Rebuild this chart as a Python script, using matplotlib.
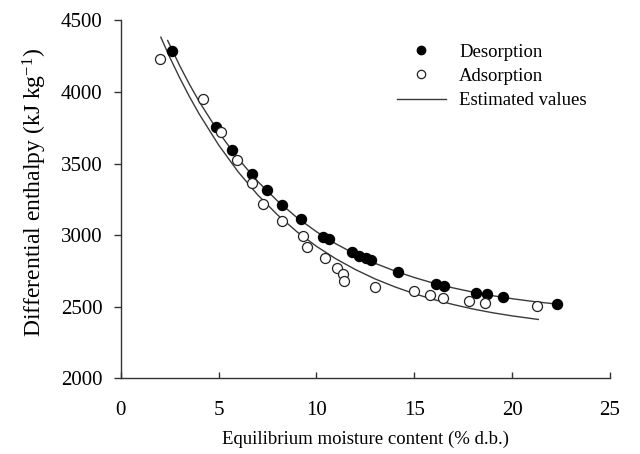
import matplotlib
matplotlib.use("Agg")
import matplotlib.pyplot as plt
from matplotlib.lines import Line2D

# Desorption (filled circles)
des_x = [2.64, 4.85, 5.67, 6.69, 7.46, 8.23, 9.20, 10.34, 10.64, 11.80, 12.19,
         12.53, 12.79, 14.15, 16.11, 16.54, 18.14, 18.70, 19.55, 22.28]
des_y = [4288, 3753, 3594, 3425, 3315, 3210, 3110, 2990, 2976, 2880, 2856,
         2837, 2826, 2740, 2659, 2647, 2598, 2587, 2566, 2519]

# Adsorption (open circles)
ads_x = [2.01, 4.22, 5.13, 5.96, 6.69, 7.29, 8.23, 9.30, 9.50, 10.44, 11.04,
         11.34, 11.41, 12.99, 15.00, 15.80, 16.48, 17.81, 18.62, 21.29]
ads_y = [4228, 3950, 3722, 3524, 3362, 3217, 3101, 2994, 2915, 2842, 2772,
         2728, 2679, 2640, 2608, 2582, 2559, 2540, 2524, 2507]

# Estimated values (curves)
est_des_x = [2.4, 3, 3.5, 4, 5, 6, 7, 8, 9, 10, 11, 12, 13, 14, 15, 16, 17, 18,
             19, 20, 21, 22.3]
est_des_y = [4359, 4187, 4056, 3935, 3719, 3534, 3375, 3240, 3123, 3024, 2939,
             2866, 2803, 2750, 2704, 2664, 2631, 2602, 2577, 2556, 2538, 2518]
est_ads_x = [2.05, 2.5, 3, 3.5, 4, 5, 6, 7, 8, 9, 10, 11, 12, 13, 14, 15, 16,
             17, 18, 19, 20, 21.34]
est_ads_y = [4382, 4244, 4102, 3970, 3848, 3630, 3442, 3281, 3143, 3024, 2922,
             2834, 2759, 2694, 2639, 2591, 2550, 2515, 2484, 2458, 2436, 2411]

xticks = [0, 5, 10, 15, 20, 25]
yticks = [2000, 2500, 3000, 3500, 4000, 4500]
legend_labels = ['Desorption', 'Adsorption', 'Estimated values']

plt.rcParams['font.family'] = ['Liberation Serif', 'DejaVu Serif']
plt.rcParams['mathtext.fontset'] = 'custom'
plt.rcParams['mathtext.rm'] = 'Liberation Serif'
plt.rcParams['mathtext.it'] = 'Liberation Serif'

fig = plt.figure(figsize=(6.4, 4.54), dpi=100)
ax = fig.add_axes([0.1886, 0.1667, 0.7644, 0.7886])

lc = '#3a3a3a'
ax.plot(est_des_x, est_des_y, color=lc, lw=1.0, zorder=2)
ax.plot(est_ads_x, est_ads_y, color=lc, lw=1.0, zorder=2)
ax.plot(des_x, des_y, 'o', color='black', ms=7.2, mec='black', zorder=3)
ax.plot(ads_x, ads_y, 'o', mfc='white', mec='#222222', mew=0.9, ms=7.2, zorder=3)

ax.set_xlim(0, 25)
ax.set_ylim(2000, 4500)
ax.set_xticks(xticks)
ax.set_yticks(yticks)
ax.tick_params(axis='x', direction='in', length=4, width=1, colors='#333333',
               labelcolor='black', labelsize=15, pad=16)
ax.tick_params(axis='y', direction='out', length=5, width=1, colors='#333333',
               labelcolor='black', labelsize=15, pad=8)
for s in ['top', 'right']:
    ax.spines[s].set_visible(False)
for s in ['left', 'bottom']:
    ax.spines[s].set_color('#333333')
    ax.spines[s].set_linewidth(1.0)

ax.set_xlabel('Equilibrium moisture content (% d.b.)', fontsize=13.5)
ax.set_ylabel('Differential enthalpy (kJ kg$^{-1}$)', fontsize=17)
ax.xaxis.set_label_coords(0.5, -0.146)
ax.yaxis.set_label_coords(-0.146, 0.52)

handles = [Line2D([], [], marker='o', ls='none', color='black', ms=6),
           Line2D([], [], marker='o', ls='none', mfc='white', mec='#222222', mew=0.9, ms=6),
           Line2D([], [], color=lc, lw=1.0)]
ax.legend(handles, legend_labels, loc='upper left', bbox_to_anchor=(0.565, 0.935),
          frameon=False, fontsize=13.5, handlelength=2.6, handletextpad=0.7,
          labelspacing=0.38, borderaxespad=0.0, borderpad=0.0)

fig.savefig('out.png', dpi=100)
